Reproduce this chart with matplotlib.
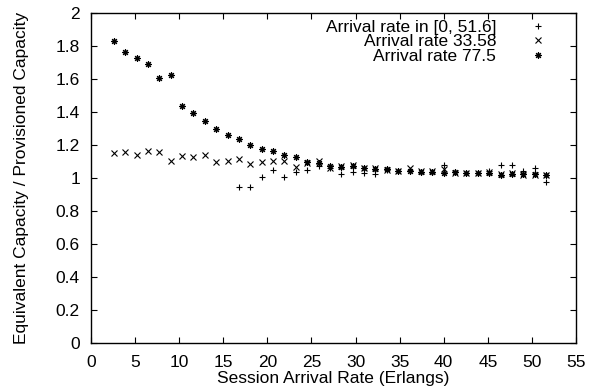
import matplotlib
matplotlib.use("Agg")
import matplotlib.pyplot as plt

plt.rcParams['font.family'] = ['Liberation Sans', 'DejaVu Sans']

# Session arrival rates (Erlangs)
rates = [2.58, 3.87, 5.16, 6.45, 7.74, 9.03, 10.32, 11.61, 12.9, 14.19,
         15.48, 16.77, 18.06, 19.35, 20.64, 21.93, 23.22, 24.51, 25.8, 27.09,
         28.38, 29.67, 30.96, 32.25, 33.54, 34.83, 36.12, 37.41, 38.7, 39.99,
         41.28, 42.57, 43.86, 45.15, 46.44, 47.73, 49.02, 50.31, 51.6]

# Series "Arrival rate in [0, 51.6]" (starts at 16.77)
rates_range = rates[11:]
ratio_range = [0.944, 0.944, 1.004, 1.050, 1.006, 1.035, 1.046, 1.070, 1.060, 1.023,
               1.034, 1.028, 1.024, 1.050, 1.040, 1.045, 1.035, 1.035, 1.078, 1.035,
               1.030, 1.030, 1.040, 1.076, 1.078, 1.040, 1.062, 0.974]

# Series "Arrival rate 33.58"
ratio_3358 = [1.153, 1.159, 1.139, 1.162, 1.158, 1.103, 1.133, 1.129, 1.139, 1.094,
              1.101, 1.117, 1.087, 1.095, 1.101, 1.101, 1.069, 1.090, 1.100, 1.060,
              1.070, 1.080, 1.060, 1.060, 1.050, 1.040, 1.060, 1.040, 1.040, 1.053,
              1.030, 1.030, 1.030, 1.035, 1.025, 1.030, 1.020, 1.020, 1.020]

# Series "Arrival rate 77.5"
ratio_775 = [1.830, 1.765, 1.725, 1.691, 1.608, 1.626, 1.435, 1.392, 1.347, 1.295,
             1.263, 1.236, 1.200, 1.176, 1.162, 1.139, 1.129, 1.097, 1.089, 1.070,
             1.065, 1.075, 1.060, 1.053, 1.055, 1.040, 1.045, 1.035, 1.035, 1.032,
             1.034, 1.028, 1.028, 1.032, 1.020, 1.026, 1.022, 1.022, 1.018]

labels = ['Arrival rate in [0, 51.6]', 'Arrival rate 33.58', 'Arrival rate 77.5']

FS = 12.5

fig = plt.figure(figsize=(5.92, 3.87), dpi=100)
ax = fig.add_axes([91/592, 44/387, 485/592, 330/387])

ax.plot(rates_range, ratio_range, linestyle='none', marker='+', color='black',
        markersize=4.6, markeredgewidth=0.8, label=labels[0])
ax.plot(rates, ratio_3358, linestyle='none', marker='x', color='black',
        markersize=4.0, markeredgewidth=0.8, label=labels[1])
ax.plot(rates, ratio_775, linestyle='none', marker=(8, 2, 0), color='black',
        markersize=4.8, markeredgewidth=0.8, label=labels[2])

ax.set_xlim(0, 55)
ax.set_ylim(0, 2)
ax.set_xticks(range(0, 56, 5))
ax.set_yticks([0, 0.2, 0.4, 0.6, 0.8, 1, 1.2, 1.4, 1.6, 1.8, 2])
ax.set_yticklabels(['0', '0.2', '0.4', '0.6', '0.8', '1', '1.2', '1.4', '1.6', '1.8', '2'])
ax.tick_params(direction='in', top=True, right=True, length=4, width=0.8,
               labelsize=FS)
ax.tick_params(axis='x', pad=8.5)
ax.tick_params(axis='y', pad=8)
for s in ax.spines.values():
    s.set_linewidth(1.0)

ax.set_xlabel('Session Arrival Rate (Erlangs)', fontsize=FS, labelpad=0.5)
ax.set_ylabel('Equivalent Capacity / Provisioned Capacity', fontsize=FS, labelpad=19)

ax.legend(loc='upper right', bbox_to_anchor=(0.9386, 0.979), frameon=False,
          markerfirst=False, fontsize=FS, borderaxespad=0, borderpad=0,
          handletextpad=1.89, labelspacing=-0.05, handlelength=1.0)

fig.savefig('out.png', dpi=100)
